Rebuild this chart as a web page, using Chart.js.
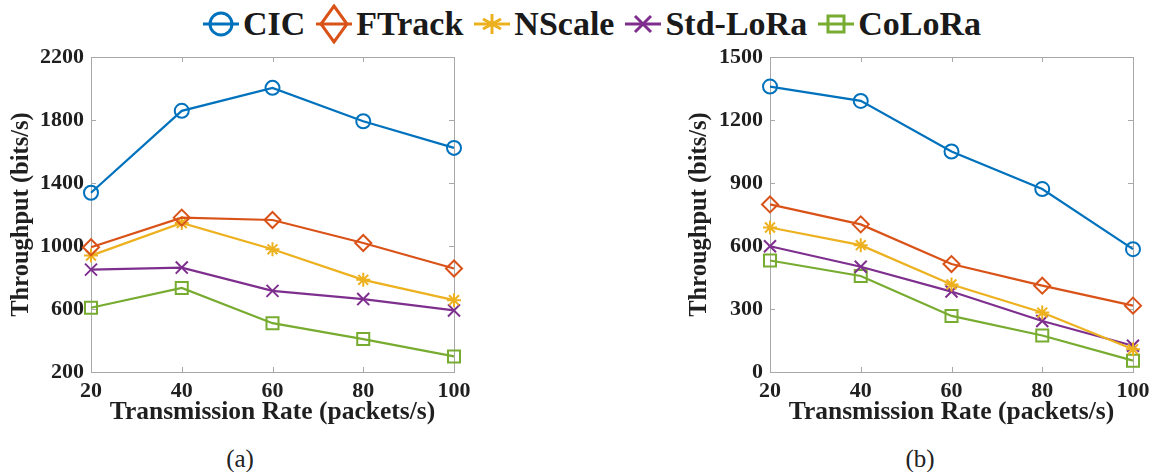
<!DOCTYPE html>
<html><head><meta charset="utf-8">
<script src="https://cdn.jsdelivr.net/npm/chart.js@4.4.1/dist/chart.umd.min.js"></script>
<style>
body{margin:0;width:1153px;height:472px;background:#fff;position:relative;overflow:hidden;font-family:"Liberation Serif","Times New Roman",serif;color:#1a1a1a}
#legend{position:absolute;left:203px;top:4px;display:flex;align-items:center;font-weight:bold;font-size:34px;line-height:40px;white-space:nowrap}
.item{display:flex;align-items:center;margin-right:11px}
.item svg{margin-right:4px}
.cap{position:absolute;top:446px;font-size:25px;line-height:26px;width:60px;text-align:center;color:#222}
canvas{position:absolute}
</style></head>
<body>
<div id="legend"></div>
<canvas id="ca" width="470" height="395" style="left:0;top:45px"></canvas>
<canvas id="cb" width="483" height="395" style="left:670px;top:45px"></canvas>
<div class="cap" style="left:210px">(a)</div>
<div class="cap" style="left:890px">(b)</div>
<script>
// ---- data ----
const rates = [20, 40, 60, 80, 100];
const seriesNames = ['CIC', 'FTrack', 'NScale', 'Std-LoRa', 'CoLoRa'];
// Chart (a)
const cicA    = [1338, 1858, 2004, 1792, 1623];
const ftrackA = [992, 1180, 1165, 1019, 857];
const nscaleA = [939, 1146, 979, 785, 656];
const stdA    = [850, 863, 715, 663, 591];
const coloraA = [608, 734, 510, 409, 299];
// Chart (b)
const cicB    = [1359, 1291, 1050, 871, 585];
const ftrackB = [798, 703, 514, 411, 316];
const nscaleB = [688, 604, 417, 283, 108];
const stdB    = [599, 501, 383, 243, 125];
const coloraB = [531, 457, 267, 174, 54];
const yTicksA = [200, 600, 1000, 1400, 1800, 2200];
const yTicksB = [0, 300, 600, 900, 1200, 1500];
const xTitle = 'Transmission Rate (packets/s)';
const yTitle = 'Throughput (bits/s)';

// ---- styles ----
const colors = ['#0072BD', '#D95319', '#EDB120', '#7E2F8E', '#77AC30'];
const styles = ['circle', 'rectRot', 'star', 'crossRot', 'rect'];
const radii  = [7, 8, 7, 8.5, 8.5];
const TXT = '#1f1f1f', AX = '#a8a8a8';
const SERIF = "'Liberation Serif', 'Times New Roman', serif";

// legend (HTML)
const svgMarker = (i) => {
  const c = colors[i]; let m = '';
  if (i === 0) m = `<circle cx="18" cy="20" r="11" fill="none" stroke="${c}" stroke-width="3"/>`;
  if (i === 1) m = `<path d="M18 2 L31 20 L18 38 L5 20 Z" fill="none" stroke="${c}" stroke-width="3"/>`;
  if (i === 2) m = `<path d="M18 10 V30 M9 15 L27 25 M9 25 L27 15" stroke="${c}" stroke-width="3"/>`;
  if (i === 3) m = `<path d="M10 12 L26 28 M10 28 L26 12" stroke="${c}" stroke-width="3"/>`;
  if (i === 4) m = `<rect x="10" y="12" width="16" height="16" fill="none" stroke="${c}" stroke-width="3"/>`;
  return `<svg width="36" height="40"><line x1="0" y1="20" x2="36" y2="20" stroke="${c}" stroke-width="3"/>${m}</svg>`;
};
document.getElementById('legend').innerHTML = seriesNames.map((n, i) =>
  `<div class="item">${svgMarker(i)}<span>${n}</span></div>`).join('');

const boxPlugin = {
  id: 'box',
  beforeDatasetsDraw(chart) {
    const {ctx, chartArea: {left, right, top, bottom}, scales: {x, y}} = chart;
    ctx.save();
    ctx.strokeStyle = AX; ctx.lineWidth = 1;
    ctx.strokeRect(Math.round(left) + 0.5, Math.round(top) + 0.5, Math.round(right - left), Math.round(bottom - top));
    const L = 5;
    ctx.beginPath();
    x.ticks.forEach(t => {
      const px = Math.round(x.getPixelForValue(t.value)) + 0.5;
      ctx.moveTo(px, bottom); ctx.lineTo(px, bottom - L);
      ctx.moveTo(px, top); ctx.lineTo(px, top + L);
    });
    y.ticks.forEach(t => {
      const py = Math.round(y.getPixelForValue(t.value)) + 0.5;
      ctx.moveTo(left, py); ctx.lineTo(left + L, py);
      ctx.moveTo(right, py); ctx.lineTo(right - L, py);
    });
    ctx.stroke();
    ctx.restore();
  }
};

function makeChart(id, series, yTicks, yWidth, yTitlePad, padRight) {
  const datasets = series.map((vals, i) => ({
    label: seriesNames[i],
    data: rates.map((r, k) => ({x: r, y: vals[k]})),
    borderColor: colors[i],
    backgroundColor: 'transparent',
    borderWidth: 2.2,
    pointStyle: styles[i],
    pointRadius: radii[i],
    pointBorderWidth: 2,
    pointBorderColor: colors[i],
    pointBackgroundColor: 'transparent',
    clip: false,
    tension: 0
  }));
  const step = yTicks[1] - yTicks[0];
  return new Chart(document.getElementById(id), {
    type: 'line',
    data: {datasets},
    plugins: [boxPlugin],
    options: {
      responsive: false, animation: false, devicePixelRatio: 1,
      layout: {padding: {top: 12, right: padRight, left: 0, bottom: 0}},
      plugins: {legend: {display: false}, tooltip: {enabled: false}},
      scales: {
        x: {
          type: 'linear', min: rates[0], max: rates[rates.length - 1],
          grid: {display: false, drawTicks: false}, border: {display: false},
          ticks: {stepSize: 20, color: TXT, padding: 6, maxRotation: 0,
                  font: {family: SERIF, weight: 'bold', size: 22}, callback: v => String(v)},
          title: {display: true, text: xTitle, color: TXT, padding: {top: 0, bottom: 12},
                  font: {family: SERIF, weight: 'bold', size: 25.5, lineHeight: 1.2}},
          afterFit: s => { s.height = 68; s.paddingLeft = 0; s.paddingRight = 0; }
        },
        y: {
          min: yTicks[0], max: yTicks[yTicks.length - 1],
          grid: {display: false, drawTicks: false}, border: {display: false},
          ticks: {stepSize: step, color: TXT, padding: 7,
                  font: {family: SERIF, weight: 'bold', size: 22}, callback: v => String(v)},
          title: {display: true, text: yTitle, color: TXT, padding: {top: yTitlePad, bottom: 0},
                  font: {family: SERIF, weight: 'bold', size: 24.5, lineHeight: 1.2}},
          afterFit: s => { s.width = yWidth; s.paddingTop = 0; s.paddingBottom = 0; }
        }
      }
    }
  });
}

makeChart('ca', [cicA, ftrackA, nscaleA, stdA, coloraA], yTicksA, 91, 7, 16);
makeChart('cb', [cicB, ftrackB, nscaleB, stdB, coloraB], yTicksB, 100, 15, 20);
</script>
</body></html>
